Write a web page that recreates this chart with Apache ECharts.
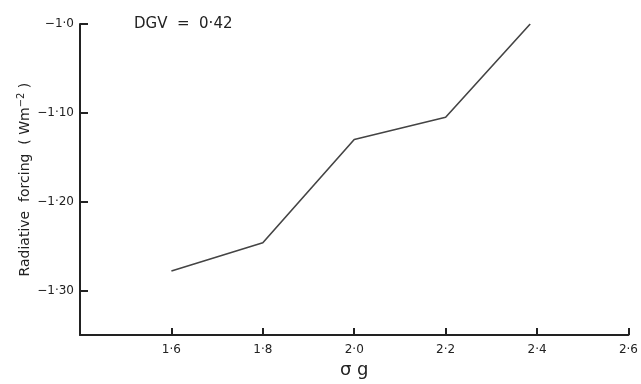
<!DOCTYPE html>
<html>
<head>
<meta charset="utf-8">
<script src="https://cdn.jsdelivr.net/npm/echarts@6/dist/echarts.min.js"></script>
<style>
  html, body { margin: 0; padding: 0; background: #fff; }
  #chart { width: 641px; height: 384px; }
</style>
</head>
<body>
<div id="chart"></div>
<script>
// sigma g values and radiative forcing
var sigmaG = [1.6, 1.8, 2.0, 2.2, 2.385];
var forcing = [-1.278, -1.246, -1.13, -1.105, -1.0];
var xTicks = [1.6, 1.8, 2.0, 2.2, 2.4, 2.6];
var yTicks = [-1.3, -1.2, -1.1, -1.0];
var yTickLabels = ["\u22121\u00b730", "\u22121\u00b720", "\u22121\u00b710", "\u22121\u00b70"];

var ink = "#222";
var font = "DejaVu Sans";

var chart = echarts.init(document.getElementById("chart"));

var option = {
  animation: false,
  backgroundColor: "#fff",
  grid: { left: 80, right: 9, top: 24, bottom: 47 },
  graphic: [
    {
      type: "text",
      left: 134,
      top: 17,
      style: { text: "DGV  =  0\u00b742", fontSize: 15, fontFamily: font, fill: ink }
    }
  ],
  xAxis: {
    type: "value",
    min: 1.4,
    max: 2.6,
    interval: 0.2,
    name: "\u03c3 g",
    nameLocation: "middle",
    nameGap: 18,
    nameTextStyle: { fontSize: 18, fontFamily: font, color: ink },
    splitLine: { show: false },
    axisLine: { lineStyle: { color: ink, width: 2 } },
    axisTick: {
      inside: true, length: 7,
      customValues: xTicks,
      lineStyle: { color: ink, width: 2 }
    },
    axisLabel: {
      customValues: xTicks,
      margin: 9,
      fontSize: 12,
      fontFamily: font,
      color: ink,
      formatter: function (v) { return v.toFixed(1).replace(".", "\u00b7"); }
    }
  },
  yAxis: {
    type: "value",
    min: -1.35,
    max: -1.0,
    name: "{n|Radiative  forcing  ( Wm}{s|\u22122}{n| )}",
    nameLocation: "middle",
    nameGap: 46,
    nameMoveOverlap: false,
    nameRotate: 90,
    nameTextStyle: {
      rich: {
        n: { fontSize: 14, fontFamily: font, color: ink },
        s: { fontSize: 10, fontFamily: font, color: ink, verticalAlign: "top", padding: [0, 0, 8, 0] }
      }
    },
    splitLine: { show: false },
    axisLine: { show: true, lineStyle: { color: ink, width: 2 } },
    axisTick: {
      inside: true, length: 8,
      customValues: yTicks,
      lineStyle: { color: ink, width: 2 }
    },
    axisLabel: {
      customValues: yTicks,
      margin: 6,
      fontSize: 12,
      fontFamily: font,
      color: ink,
      formatter: function (v) {
        var i = yTicks.findIndex(function (t) { return Math.abs(t - v) < 1e-6; });
        return i >= 0 ? yTickLabels[i] : "";
      }
    }
  },
  series: [
    {
      type: "line",
      data: sigmaG.map(function (x, i) { return [x, forcing[i]]; }),
      showSymbol: false,
      lineStyle: { color: "#444", width: 1.6 }
    }
  ]
};

chart.setOption(option);
</script>
</body>
</html>
